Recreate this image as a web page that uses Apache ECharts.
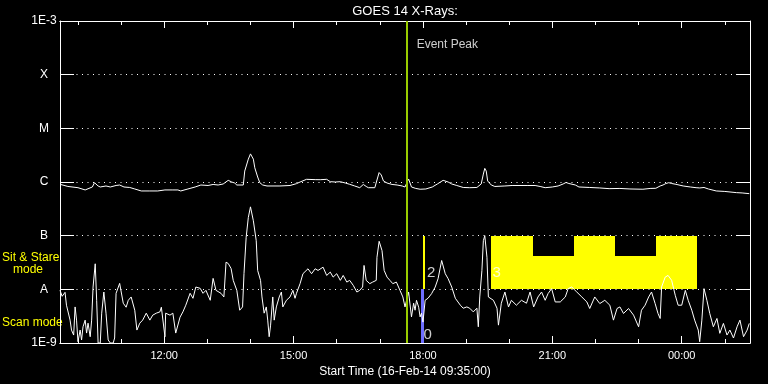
<!DOCTYPE html>
<html><head><meta charset="utf-8">
<script src="https://cdn.jsdelivr.net/npm/echarts@6/dist/echarts.min.js"></script>
<style>html,body{margin:0;padding:0;background:#000}#c{width:768px;height:384px}</style>
</head><body><div id="c"></div>
<script>
// ---------- data ----------
const startTime = '09:35';          // 16-Feb-14 09:35:00
const durationHours = 16;
const levelNames = ['1E-9', 'A', 'B', 'C', 'M', 'X', '1E-3'];   // log10 flux -9 .. -3
const levelExps  = [-9, -8, -7, -6, -5, -4, -3];

// long channel (upper curve): minutes after start, log10 flux
const longMin = [0,11,25,35,45,48,53,56,64,70,78,83,89,97,104,113,125,136,146,156,164,168,178,188,196,206,213,220,227,234,239,243,246,255,257,262,265,269,271,275,278,282,288,306,320,329,334,343,355,362,371,376,383,390,397,403,410,417,422,426,429,438,441,444,447,450,455,462,469,476,480,485,489,495,501,509,518,525,533,540,545,552,561,570,580,586,589,591,593,595,600,605,619,629,640,651,661,668,675,685,693,700,704,708,717,722,737,751,764,779,793,811,821,829,835,839,843,847,851,857,867,877,885,890,896,902,913,925,941,949,959];
const longLogFlux = [-6.043,-6.083,-6.106,-6.148,-6.093,-6.013,-6.074,-6.093,-6.074,-6.093,-6.065,-6.056,-6.093,-6.102,-6.130,-6.167,-6.167,-6.167,-6.148,-6.148,-6.148,-6.167,-6.130,-6.093,-6.056,-6.065,-6.046,-6.056,-6.037,-5.969,-6.000,-6.019,-6.056,-6.056,-5.796,-5.574,-5.476,-5.574,-5.735,-5.907,-6.013,-6.056,-6.074,-6.074,-6.065,-6.031,-6.000,-5.950,-5.956,-5.957,-5.950,-5.994,-6.000,-5.994,-6.019,-6.043,-6.074,-6.106,-6.046,-6.083,-6.106,-6.106,-5.963,-5.824,-5.870,-5.981,-6.019,-6.046,-6.056,-6.074,-6.093,-5.944,-6.093,-6.120,-6.135,-6.130,-6.093,-6.037,-5.969,-6.000,-6.037,-6.065,-6.102,-6.106,-6.102,-6.037,-5.852,-5.746,-5.796,-5.981,-6.056,-6.083,-6.074,-6.065,-6.065,-6.065,-6.065,-6.083,-6.106,-6.093,-6.074,-6.037,-6.009,-6.028,-6.056,-6.093,-6.102,-6.111,-6.124,-6.120,-6.130,-6.135,-6.120,-6.117,-6.074,-6.056,-6.028,-6.013,-6.028,-6.043,-6.074,-6.093,-6.106,-6.111,-6.102,-6.130,-6.167,-6.176,-6.198,-6.204,-6.217];

// short channel (lower curve): minutes after start, log10 flux
const shortMin = [0,3,7,9,11,14,16,19,21,23,25,28,30,32,35,37,39,42,44,46,49,51,53,56,58,61,64,67,70,74,76,78,83,88,92,95,99,104,107,111,115,120,125,129,134,139,141,146,147,153,157,161,167,171,175,181,185,189,195,199,203,209,213,217,224,228,231,234,238,241,246,250,254,256,259,262,265,269,273,275,279,281,284,287,289,291,293,296,298,301,305,308,310,315,320,324,327,329,334,338,345,350,355,359,366,371,376,380,385,390,394,399,403,408,413,417,421,423,426,431,435,440,441,444,448,451,455,459,463,468,473,477,480,485,489,492,494,496,499,501,503,505,508,512,517,522,526,531,536,540,545,550,557,561,566,570,575,580,582,584,587,589,591,594,596,598,603,608,610,614,619,624,628,635,642,649,654,659,665,670,675,679,684,689,696,703,707,712,719,726,733,737,744,751,758,765,770,775,779,784,791,798,805,809,814,819,823,828,832,835,837,842,846,851,856,860,865,870,874,879,883,888,890,893,896,900,904,909,914,918,923,928,932,937,942,946,951,956,959];
const shortLogFlux = [-8.019,-8.130,-8.056,-8.296,-8.333,-8.574,-8.759,-8.852,-8.328,-8.574,-8.976,-8.759,-8.944,-8.698,-8.574,-8.815,-8.630,-8.883,-8.574,-7.957,-7.524,-8.204,-9.0,-9.0,-8.444,-8.050,-8.444,-8.944,-9.0,-9.0,-8.907,-8.074,-7.889,-8.259,-8.333,-8.204,-8.142,-8.389,-8.759,-8.630,-8.574,-8.444,-8.574,-8.481,-8.444,-8.420,-8.333,-8.883,-8.444,-8.481,-8.444,-8.815,-8.519,-8.420,-8.296,-8.074,-8.167,-7.957,-7.981,-8.074,-8.019,-8.204,-7.796,-8.019,-8.074,-8.142,-7.494,-7.518,-7.611,-7.833,-8.019,-8.389,-8.328,-7.704,-7.031,-6.661,-6.463,-6.722,-7.093,-7.648,-7.833,-8.142,-8.444,-8.328,-8.574,-8.883,-8.667,-8.142,-8.574,-8.328,-8.142,-8.050,-8.328,-8.204,-8.142,-8.019,-8.167,-8.074,-7.894,-7.709,-7.617,-7.709,-7.617,-7.648,-7.587,-7.741,-7.679,-7.772,-7.709,-7.833,-7.741,-7.865,-7.833,-7.926,-8.050,-8.019,-7.957,-7.555,-7.833,-7.894,-7.865,-7.833,-7.402,-7.105,-7.278,-7.648,-7.772,-7.833,-7.894,-7.865,-8.019,-8.142,-8.328,-8.050,-8.513,-8.259,-8.389,-8.204,-8.333,-8.513,-8.444,-8.611,-8.204,-8.167,-8.080,-7.957,-7.802,-7.463,-7.709,-7.802,-7.957,-8.167,-8.296,-8.352,-8.328,-8.352,-8.420,-8.352,-8.698,-8.142,-7.648,-7.093,-7.0,-7.402,-8.142,-8.142,-8.204,-8.352,-8.667,-8.259,-8.050,-8.328,-8.204,-8.296,-8.204,-8.259,-8.050,-8.328,-8.142,-8.050,-8.204,-8.080,-7.987,-8.235,-8.235,-8.142,-7.987,-7.957,-8.050,-8.142,-8.235,-8.357,-8.142,-8.265,-8.204,-8.296,-8.574,-8.357,-8.328,-8.450,-8.357,-8.481,-8.698,-8.389,-8.296,-8.142,-8.050,-8.265,-8.450,-8.543,-7.957,-7.772,-7.741,-7.833,-8.111,-8.296,-8.296,-8.019,-8.204,-8.389,-8.574,-8.759,-8.976,-8.574,-7.987,-8.204,-8.450,-8.698,-8.543,-8.820,-8.635,-8.852,-8.759,-8.907,-8.698,-8.574,-8.883,-8.759,-8.635];

// event peak
const eventPeakTime = '17:38';
const eventPeakLabel = 'Event Peak';
const eventPeakLabelFlux = 3.6e-4;

// instrument mode intervals
const modeStart = ['17:57','18:00','19:35','20:33','21:30','22:27','23:24'];
const modeEnd   = ['18:02','18:03','20:33','21:30','22:27','23:24','00:21'];
const modeKind  = ['scan','stare','stare','stare','stare','stare','stare'];
const modeLow   = [1e-9, 1e-8, 1e-8, 1e-8, 1e-8, 1e-8, 1e-8];
const modeHigh  = [1e-8, 1e-7, 1e-7, 4.1e-8, 1e-7, 4.1e-8, 1e-7];
const modeLabelText = ['0', '2', '3'];
const modeLabelTime = ['18:00', '18:05', '19:36'];
const modeLabelFlux = [1.4e-9, 2.0e-8, 2.0e-8];

// ---------- build ----------
const FONT = 'Liberation Sans';
function hm(s) { const p = s.split(':'); return +p[0] + (+p[1]) / 60; }
const START_H = hm(startTime);
const END_H = START_H + durationHours;
function toH(s) { let h = hm(s); if (h < START_H - 1e-9) h += 24; return h; }
const longData = longMin.map((m, i) => [START_H + m / 60, Math.pow(10, longLogFlux[i])]);
const shortData = shortMin.map((m, i) => [START_H + m / 60, Math.pow(10, shortLogFlux[i])]);
const modeData = modeStart.map((s, i) => [toH(s), toH(modeEnd[i]), modeLow[i], modeHigh[i], modeKind[i] === 'scan' ? 1 : 0]);
const modeLabelData = modeLabelText.map((t, i) => [toH(modeLabelTime[i]), modeLabelFlux[i], t]);
const levelMap = {}; levelExps.forEach((e, i) => levelMap[e] = levelNames[i]);

function pad(n) { return (n < 10 ? '0' : '') + n; }
function xAxis(pos, step, len, extra) {
  return Object.assign({
    type: 'value', position: pos, min: START_H, max: END_H,
    minInterval: step, maxInterval: step, splitNumber: Math.round(durationHours / step),
    axisLine: { show: true, lineStyle: { color: '#fff', width: 1 } },
    axisTick: { show: true, inside: true, length: len, lineStyle: { color: '#fff', width: 1 } },
    axisLabel: { show: false }, splitLine: { show: false }
  }, extra || {});
}
function yAxis(pos, showLabel) {
  return {
    type: 'log', logBase: 10, position: pos, min: 1e-9, max: 1e-3, splitNumber: 6,
    axisLine: { show: true, lineStyle: { color: '#fff', width: 1 } },
    axisTick: { show: true, inside: true, length: 14, lineStyle: { color: '#fff', width: 1 } },
    axisLabel: showLabel ? {
      show: true, color: '#fff', fontSize: 12, fontFamily: FONT, margin: 16, align: 'center',
      formatter: v => levelMap[Math.round(Math.log10(v))] || ''
    } : { show: false },
    splitLine: showLabel ? { show: true, lineStyle: { color: '#fff', width: 1, type: [1, 4.5] } } : { show: false }
  };
}

const chart = echarts.init(document.getElementById('c'), null, { renderer: 'canvas' });
chart.setOption({
  backgroundColor: '#000',
  animation: false,
  textStyle: { fontFamily: FONT },
  grid: { left: 60, right: 18, top: 19, bottom: 41, containLabel: false },
  xAxis: [
    xAxis('bottom', 1, 4),
    xAxis('bottom', 3, 7, {
      axisLabel: {
        show: true, color: '#fff', fontSize: 11, fontFamily: FONT, margin: 7,
        formatter: v => { const h = Math.round(v); if (Math.abs(v - h) > 1e-6 || h % 3) return ''; return pad(h % 24) + ':00'; }
      },
      name: 'Start Time (16-Feb-14 09:35:00)', nameLocation: 'middle', nameGap: 18,
      nameTextStyle: { color: '#fff', fontSize: 12, fontFamily: FONT }
    }),
    xAxis('top', 1, 4),
    xAxis('top', 3, 7, {
      name: 'GOES 14 X-Rays:', nameLocation: 'middle', nameGap: 3,
      nameTextStyle: { color: '#fff', fontSize: 13, fontFamily: FONT }
    })
  ],
  yAxis: [yAxis('left', true), yAxis('right', false)],
  graphic: [
    { type: 'text', left: 2, top: 252, style: { text: 'Sit & Stare', fill: '#ffff00', font: '12px "Liberation Sans"' } },
    { type: 'text', left: 13, top: 264, style: { text: 'mode', fill: '#ffff00', font: '12px "Liberation Sans"' } },
    { type: 'text', left: 2, top: 317, style: { text: 'Scan mode', fill: '#ffff00', font: '12px "Liberation Sans"' } }
  ],
  series: [
    {
      type: 'custom', xAxisIndex: 0, yAxisIndex: 0, silent: true,
      encode: { x: [0, 1], y: [2, 3] },
      data: modeData,
      renderItem: (params, api) => {
        const p0 = api.coord([api.value(0), api.value(3)]);
        const p1 = api.coord([api.value(1), api.value(2)]);
        const x0 = Math.round(p0[0]), x1 = Math.round(p1[0]);
        const y0 = Math.round(p0[1]), y1 = Math.round(p1[1]);
        return {
          type: 'rect',
          shape: { x: x0, y: y0, width: Math.max(1, x1 - x0), height: y1 - y0 },
          style: { fill: api.value(4) === 1 ? '#6e6eff' : '#ffff00' }
        };
      }
    },
    {
      type: 'line', xAxisIndex: 0, yAxisIndex: 0, data: longData, showSymbol: false, symbol: 'none',
      lineStyle: { color: '#fff', width: 1 }, clip: true, silent: true
    },
    {
      type: 'line', xAxisIndex: 0, yAxisIndex: 0, data: shortData, showSymbol: false, symbol: 'none',
      lineStyle: { color: '#fff', width: 1 }, clip: true, silent: true
    },
    {
      type: 'scatter', xAxisIndex: 0, yAxisIndex: 0, silent: true,
      data: modeLabelData, symbolSize: 1, itemStyle: { color: 'transparent' },
      label: { show: true, position: 'right', distance: 0, color: '#fff', fontSize: 15, fontFamily: FONT, formatter: p => p.data[2] }
    },
    {
      type: 'scatter', xAxisIndex: 0, yAxisIndex: 0, silent: true,
      data: [[toH(eventPeakTime), eventPeakLabelFlux]], symbolSize: 1, itemStyle: { color: 'transparent' },
      label: { show: true, position: 'right', distance: 9, color: '#fff', fontSize: 12, fontFamily: FONT, formatter: eventPeakLabel },
      markLine: {
        silent: true, symbol: ['none', 'none'], label: { show: false },
        lineStyle: { color: '#99cc00', width: 2, type: 'solid' },
        data: [{ xAxis: toH(eventPeakTime) }]
      }
    }
  ]
});
</script>
</body></html>
